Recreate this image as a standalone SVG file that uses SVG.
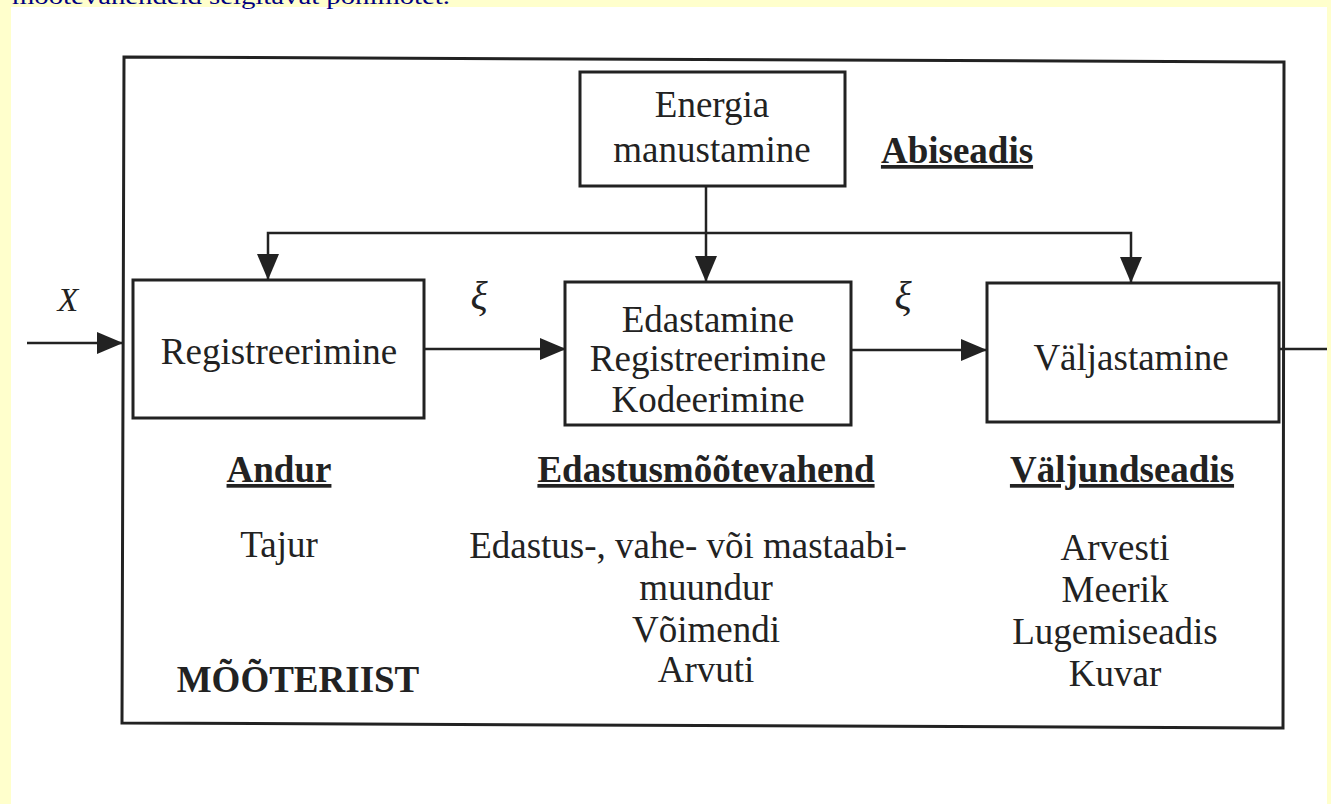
<svg xmlns="http://www.w3.org/2000/svg" width="1331" height="804" viewBox="0 0 1331 804">
<defs>
<style>
.t{font-family:"Liberation Serif","Times New Roman",serif;font-size:37px;fill:#222;text-anchor:middle}
.b{font-weight:bold;text-decoration:underline}
.box{fill:none;stroke:#222;stroke-width:3}
.c{fill:none;stroke:#222;stroke-width:2.5}
</style>
<marker id="ah" markerUnits="userSpaceOnUse" markerWidth="26" markerHeight="22" refX="25" refY="11" orient="auto">
<path d="M0,0 L26,11 L0,22 z" fill="#222"/>
</marker>
</defs>
<rect width="1331" height="804" fill="#FFFFCC"/>
<rect x="11" y="7" width="1316" height="797" fill="#FFFFFF"/>
<text x="12" y="4" textLength="438" lengthAdjust="spacingAndGlyphs" style="font-family:'Liberation Serif',serif;font-size:24px;fill:#000080">mõõtevahendeid selgitavat põhimõtet.</text>
<polygon id="frame" points="124,57 1284,62 1283,728 122,723" class="box"/>
<g id="energia">
<rect x="580" y="72" width="265" height="114" class="box"/>
<text x="712" y="117" class="t">Energia</text>
<text x="712" y="162" class="t">manustamine</text>
</g>
<g id="abiseadis"><text x="957" y="163" class="t b">Abiseadis</text></g>
<g id="registreerimine">
<rect x="133" y="280" width="291" height="138" class="box"/>
<text x="279" y="364" class="t">Registreerimine</text>
</g>
<g id="edastamine">
<rect x="565" y="282" width="286" height="143" class="box"/>
<text x="708" y="332" class="t">Edastamine</text>
<text x="708" y="371" class="t">Registreerimine</text>
<text x="708" y="412" class="t">Kodeerimine</text>
</g>
<g id="valjastamine">
<rect x="987" y="283" width="292" height="139" class="box"/>
<text x="1131" y="370" class="t">Väljastamine</text>
</g>
<g id="andur">
<text x="279" y="482" class="t b">Andur</text>
<text x="279" y="557" class="t">Tajur</text>
<text x="298" y="692" class="t" style="font-weight:bold">MÕÕTERIIST</text>
</g>
<g id="edastusmootevahend">
<text x="706" y="482" class="t b">Edastusmõõtevahend</text>
<text x="688" y="558" class="t">Edastus-, vahe- või mastaabi-</text>
<text x="706" y="600" class="t">muundur</text>
<text x="706" y="642" class="t">Võimendi</text>
<text x="706" y="682" class="t">Arvuti</text>
</g>
<g id="valjundseadis">
<text x="1122" y="482" class="t b">Väljundseadis</text>
<text x="1115" y="560" class="t">Arvesti</text>
<text x="1115" y="602" class="t">Meerik</text>
<text x="1115" y="644" class="t">Lugemiseadis</text>
<text x="1115" y="686" class="t">Kuvar</text>
</g>
<g id="connectors">
<path d="M27,343 H122" class="c" marker-end="url(#ah)"/>
<path d="M424,349 H565" class="c" marker-end="url(#ah)"/>
<path d="M851,350 H986" class="c" marker-end="url(#ah)"/>
<path d="M1279,349 H1327" class="c"/>
<path d="M706,186 V281" class="c" marker-end="url(#ah)"/>
<path d="M706,233 H268 V279" class="c" marker-end="url(#ah)"/>
<path d="M706,233 H1131 V282" class="c" marker-end="url(#ah)"/>
<text x="68" y="311" class="t" style="font-style:italic;font-size:34px">X</text>
<text x="479" y="309" class="t" style="font-style:italic;font-size:40px">ξ</text>
<text x="903" y="309" class="t" style="font-style:italic;font-size:40px">ξ</text>
</g>
</svg>
